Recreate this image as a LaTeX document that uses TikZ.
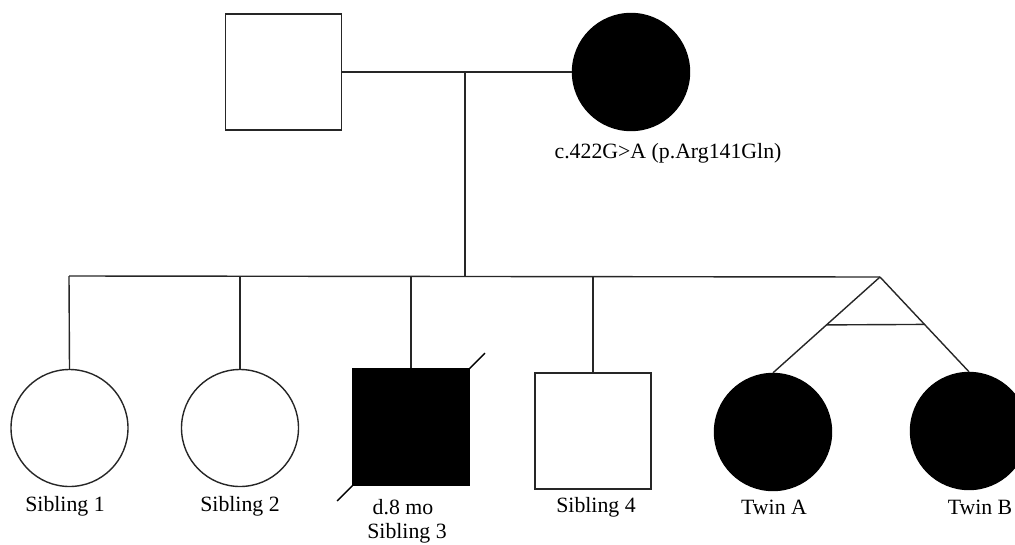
\documentclass[tikz,border=0pt]{standalone}
\usepackage{fontspec}
\setmainfont{Liberation Serif}
\usetikzlibrary{calc}
\begin{document}
\begin{tikzpicture}[x=1pt,y=-1pt,
  ln/.style={line width=1.4pt,black!85},
  male/.style={draw=black!85,line width=1.4pt,rectangle,minimum size=116pt,inner sep=0pt,fill=white},
  female/.style={draw=black!85,line width=1.4pt,circle,minimum size=117pt,inner sep=0pt,fill=white},
  aff/.style={fill=black,draw=black},
  lbl/.style={font=\fontsize{21.8}{26}\selectfont,inner sep=0pt,anchor=center}]
\useasboundingbox (0,0) rectangle (1015,544);
\begin{scope}
\clip (0,0) rectangle (1015,544);
% parents
\node[male] (father) at (283.5,72) {};
\node[female,aff] (mother) at (631,72) {};
\coordinate (cm) at (465,72);
\coordinate (sl) at (69,276);
\coordinate (sm) at (465,276);
\coordinate (apex) at (880,277);
\draw[ln] (father.east) -- (mother.west);
\draw[ln] (cm) -- (sm);
\draw[ln] (sl) -- (apex);
% children
\node[female] (s1) at (69.5,428) {};
\node[female] (s2) at (240,428) {};
\node[male,aff] (s3) at (411,427) {};
\node[male] (s4) at (593,431) {};
\node[female,aff] (ta) at (773,432) {};
\node[female,aff] (tb) at (969,431) {};
\draw[ln] (sl) -- (s1.north);
\draw[ln] (240,276) -- (s2.north);
\draw[ln] (411,276) -- (s3.north);
\draw[ln] (593,276) -- (s4.north);
\draw[ln] (apex) -- (ta.north);
\draw[ln] (apex) -- (tb.north);
\draw[ln] ($(apex)!0.5!(ta.north)$) -- ($(apex)!0.5!(tb.north)$);
% deceased
\draw[ln,black] ($(s3.south west)!-0.13!(s3.north east)$) -- ($(s3.north east)!-0.13!(s3.south west)$);
% labels
\node[lbl] (ml) at (668,153) {c.422G>A (p.Arg141Gln)};
\node[lbl] (l1) at (65,506) {Sibling 1};
\node[lbl] (l2) at (240,506) {Sibling 2};
\node[lbl] (l3a) at (403,507) {d.8 mo};
\node[lbl] (l3b) at (407,533) {Sibling 3};
\node[lbl] (l4) at (596,507) {Sibling 4};
\node[lbl] (la) at (774,507) {Twin A};
\node[lbl] (lb) at (980,507) {Twin B};
\end{scope}
\end{tikzpicture}
\end{document}
